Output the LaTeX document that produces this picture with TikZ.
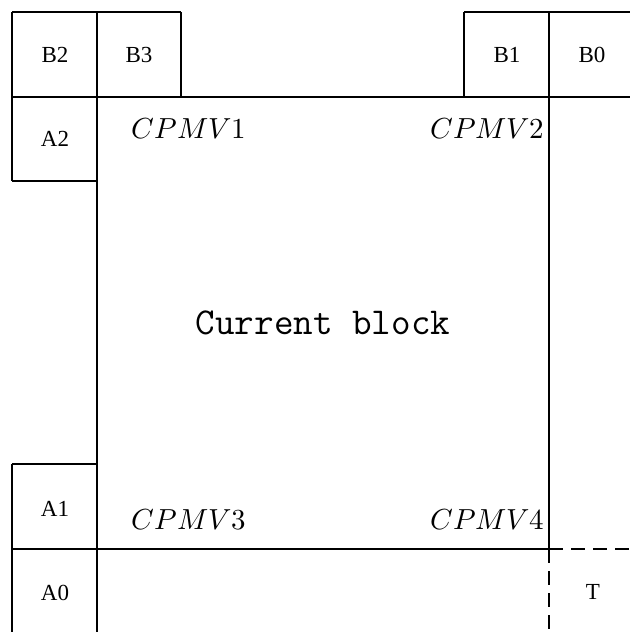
\documentclass[tikz,border=0pt]{standalone}
\usepackage{fontspec}
\setmainfont{Liberation Serif}
\newfontfamily\curfont{Latin Modern Mono}
\usepackage{unicode-math}
\setmathfont{Latin Modern Math}
\begin{document}
\begin{tikzpicture}[x=1pt,y=-1pt,
  edge/.style={line width=1.5pt},
  dashedge/.style={line width=1.5pt,dash pattern=on 14pt off 8pt},
  lbl/.style={font=\fontsize{23}{25}\selectfont},
  mv/.style={font=\fontsize{29}{32}\selectfont},
  cur/.style={font=\curfont\fontsize{38}{40}\selectfont}]
\useasboundingbox (0,0) rectangle (630,632);
\draw[edge] (12,12) -- (181,12);
\draw[edge] (464,12) -- (630,12);
\draw[edge] (12,97) -- (630,97);
\draw[edge] (12,12) -- (12,181);
\draw[edge] (97,12) -- (97,632);
\draw[edge] (181,12) -- (181,97);
\draw[edge] (464,12) -- (464,97);
\draw[edge] (549,12) -- (549,549);
\draw[dashedge] (549,549) -- (549,632);
\draw[edge] (12,181) -- (97,181);
\draw[edge] (12,464) -- (97,464);
\draw[edge] (12,464) -- (12,632);
\draw[edge] (12,549) -- (549,549);
\draw[dashedge] (549,549) -- (630,549);
% labels
\node[lbl] (b2) at (55,55) {B2};
\node[lbl] (b3) at (139,55) {B3};
\node[lbl] (b1) at (507,55) {B1};
\node[lbl] (b0) at (592,55) {B0};
\node[lbl] (a2) at (55,139) {A2};
\node[lbl] (a1) at (55,509) {A1};
\node[lbl] (a0) at (55,593) {A0};
\node[lbl] (t) at (593,592) {T};
\node[mv] (m1) at (189,129) {$CPMV1$};
\node[mv,anchor=east] (m2) at (548,129) {$CPMV2$};
\node[mv] (m3) at (189,520) {$CPMV3$};
\node[mv,anchor=east] (m4) at (548,520) {$CPMV4$};
\node[cur] (cb) at (323,323) {Current block};
\end{tikzpicture}
\end{document}
